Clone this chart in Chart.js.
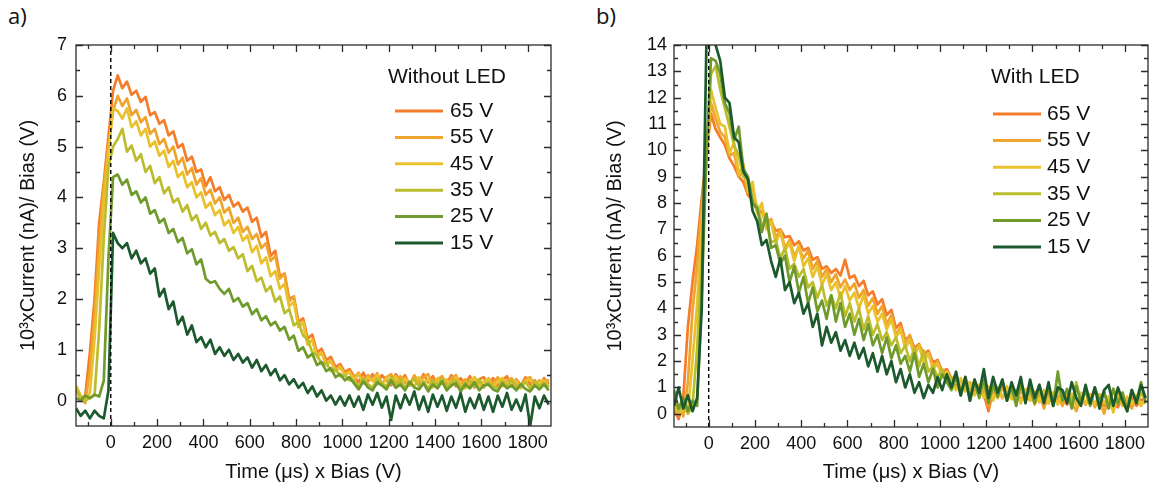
<!DOCTYPE html>
<html><head><meta charset="utf-8">
<script src="https://cdn.jsdelivr.net/npm/chart.js@4.4.1/dist/chart.umd.min.js"></script>
<style>
body{margin:0;background:#fff;width:1157px;height:494px;position:relative;overflow:hidden}
.panel{position:absolute;top:0}
.tag{position:absolute;top:0;font:22px 'Open Sans',sans-serif;color:#111}
</style></head><body>
<div class="tag" style="left:8px">a)</div>
<div class="tag" style="left:596px">b)</div>
<canvas id="c1" class="panel" style="left:0" width="580" height="494"></canvas>
<canvas id="c2" class="panel" style="left:590px" width="567" height="494"></canvas>
<script>
/* ===== DATA ===== */
const timeBias=[-150,-130,-110,-90,-70,-50,-30,-10,10,30,
  50,70,90,110,130,150,170,190,210,230,
  250,270,290,310,330,350,370,390,410,430,
  450,470,490,510,530,550,570,590,610,630,
  650,670,690,710,730,750,770,790,810,830,
  850,870,890,910,930,950,970,990,1010,1030,
  1050,1070,1090,1110,1130,1150,1170,1190,1210,1230,
  1250,1270,1290,1310,1330,1350,1370,1390,1410,1430,
  1450,1470,1490,1510,1530,1550,1570,1590,1610,1630,
  1650,1670,1690,1710,1730,1750,1770,1790,1810,1830,
  1850,1870,1890];

const biasLabels=['65 V','55 V','45 V','35 V','25 V','15 V'];
const biasColors=['#F47C2A','#EFA42E','#E9C12C','#BCBD2E','#6F9A2C','#1C5A2E'];
const xTicks=[0,200,400,600,800,1000,1200,1400,1600,1800];
const yTicksA=[0,1,2,3,4,5,6,7];
const yTicksB=[0,1,2,3,4,5,6,7,8,9,10,11,12,13,14];

// a) without LED
const noLed65=[0.25,0.0,0.1,0.95,2.0,3.5,4.3,5.2,6.1,6.4,
  6.15,6.28,6.02,6.1,5.88,5.98,5.62,5.68,5.45,5.52,
  5.22,5.3,4.98,5.05,4.72,4.8,4.5,4.55,4.22,4.4,
  4.12,4.2,3.95,4.05,3.82,3.9,3.72,3.8,3.52,3.6,
  3.22,3.32,2.85,2.95,2.45,2.5,2.0,2.05,1.55,1.62,
  1.22,1.3,0.95,1.02,0.8,0.86,0.66,0.72,0.56,0.62,
  0.48,0.36,0.55,0.38,0.52,0.32,0.5,0.4,0.3,0.52,
  0.38,0.5,0.3,0.46,0.34,0.52,0.36,0.48,0.3,0.45,
  0.34,0.5,0.28,0.44,0.32,0.48,0.26,0.42,0.46,0.3,
  0.44,0.28,0.4,0.48,0.28,0.42,0.3,0.46,0.32,0.4,
  0.28,0.44,0.32];
const noLed55=[0.2,0.05,-0.05,0.6,1.7,3.1,4.2,5.0,5.7,6.0,
  5.8,5.95,5.62,5.72,5.48,5.58,5.25,5.35,5.05,5.15,
  4.88,5.0,4.65,4.78,4.45,4.58,4.25,4.38,4.05,4.15,
  3.88,4.0,3.7,3.8,3.5,3.6,3.32,3.42,3.18,3.28,
  3.0,3.1,2.75,2.85,2.4,2.5,1.95,2.05,1.45,1.55,
  1.12,1.2,0.88,0.95,0.72,0.8,0.6,0.68,0.52,0.58,
  0.45,0.55,0.36,0.5,0.4,0.54,0.32,0.46,0.52,0.34,
  0.48,0.36,0.3,0.5,0.36,0.46,0.52,0.28,0.42,0.48,
  0.3,0.44,0.5,0.3,0.42,0.28,0.46,0.34,0.26,0.44,
  0.34,0.46,0.28,0.4,0.44,0.3,0.26,0.42,0.46,0.28,
  0.4,0.3,0.42];
const noLed45=[0.3,0.1,0.0,0.15,1.2,2.6,3.9,4.9,5.75,5.7,
  5.55,5.75,5.38,5.5,5.22,5.35,5.0,5.1,4.82,4.92,
  4.6,4.72,4.4,4.5,4.2,4.3,4.0,4.1,3.8,3.9,
  3.65,3.75,3.45,3.55,3.3,3.42,3.15,3.25,2.92,3.05,
  2.7,2.82,2.45,2.55,2.2,2.3,1.85,1.95,1.45,1.55,
  1.1,1.2,0.86,0.94,0.7,0.78,0.58,0.66,0.5,0.56,
  0.4,0.52,0.34,0.46,0.38,0.5,0.3,0.44,0.36,0.48,
  0.3,0.44,0.36,0.28,0.46,0.34,0.42,0.26,0.44,0.33,
  0.42,0.28,0.46,0.32,0.24,0.4,0.44,0.28,0.38,0.42,
  0.26,0.38,0.44,0.28,0.36,0.4,0.24,0.38,0.42,0.28,
  0.36,0.4,0.28];
const noLed35=[0.25,0.05,0.0,0.05,0.1,1.4,3.2,4.6,5.0,5.15,
  5.35,4.9,5.02,4.72,4.85,4.5,4.62,4.28,4.4,4.08,
  4.2,3.9,3.98,3.72,3.85,3.55,3.65,3.38,3.5,3.25,
  3.32,3.1,3.18,2.95,3.02,2.8,2.88,2.55,2.65,2.35,
  2.42,2.15,2.25,1.95,2.05,1.72,1.8,1.48,1.55,1.28,
  1.2,0.95,0.9,0.72,0.75,0.58,0.62,0.48,0.5,0.4,
  0.4,0.28,0.44,0.32,0.26,0.42,0.34,0.28,0.46,0.3,
  0.4,0.26,0.36,0.42,0.28,0.38,0.24,0.4,0.3,0.44,
  0.26,0.36,0.4,0.24,0.34,0.38,0.28,0.42,0.26,0.36,
  0.28,0.24,0.38,0.3,0.4,0.26,0.32,0.36,0.24,0.38,
  0.28,0.36,0.26];
const noLed25=[0.05,0.0,0.1,0.05,0.12,0.08,0.4,2.8,4.4,4.45,
  4.25,4.35,4.05,4.12,3.9,4.0,3.68,3.75,3.5,3.58,
  3.3,3.38,3.12,3.2,2.9,2.98,2.68,2.78,2.4,2.32,
  2.35,2.2,2.1,2.2,1.95,2.02,1.85,1.92,1.7,1.8,
  1.58,1.66,1.48,1.55,1.38,1.45,1.2,1.28,0.98,1.05,
  0.85,0.92,0.7,0.76,0.58,0.64,0.46,0.52,0.4,0.46,
  0.34,0.22,0.38,0.26,0.2,0.36,0.3,0.22,0.4,0.25,
  0.32,0.2,0.37,0.26,0.22,0.34,0.18,0.32,0.24,0.38,
  0.2,0.3,0.34,0.18,0.32,0.24,0.36,0.2,0.3,0.32,
  0.22,0.18,0.34,0.24,0.3,0.2,0.32,0.23,0.18,0.3,
  0.22,0.32,0.2];
const noLed15=[-0.15,-0.3,-0.2,-0.35,-0.2,-0.3,-0.35,0.2,3.3,3.1,
  3.0,3.1,2.8,2.95,2.7,2.8,2.5,2.6,2.05,2.2,
  1.8,1.95,1.5,1.65,1.3,1.48,1.15,1.25,1.05,1.2,
  0.92,1.05,0.88,1.0,0.8,0.92,0.75,0.85,0.65,0.8,
  0.58,0.7,0.5,0.62,0.4,0.5,0.32,0.42,0.25,0.35,
  0.15,0.28,0.08,0.2,0.0,0.1,-0.08,0.08,-0.1,0.1,
  -0.12,0.08,-0.18,0.12,-0.08,0.15,-0.14,0.08,-0.38,0.1,
  -0.15,0.12,-0.08,0.18,-0.18,0.08,-0.22,0.12,-0.12,0.1,
  -0.2,0.08,-0.14,0.15,-0.22,0.05,-0.15,0.12,-0.18,0.08,
  -0.22,0.1,-0.12,0.15,-0.18,0.02,-0.2,0.12,-0.5,0.08,
  -0.15,0.1,-0.08];

// b) with LED
const withLed65=[0.2,-0.2,0.6,3.3,5.0,6.4,8.2,9.8,11.4,10.8,
  10.5,10.2,9.7,9.4,9.0,8.8,8.3,8.1,7.7,7.65,
  7.4,7.3,6.95,7.0,6.7,6.75,6.4,6.55,6.2,6.3,
  5.85,5.95,5.5,5.6,5.35,5.5,5.25,5.85,5.15,5.25,
  4.85,5.05,4.5,4.65,4.15,4.35,3.75,3.95,3.25,3.45,
  2.8,2.95,2.5,2.65,2.25,2.4,1.95,2.05,1.6,1.7,
  1.35,1.0,1.3,0.9,1.2,0.8,1.1,0.75,0.1,0.9,
  1.0,0.6,0.95,0.6,0.9,0.5,0.85,0.5,0.8,0.45,
  0.75,0.4,0.8,0.45,0.7,0.35,0.75,0.4,0.65,0.35,
  0.7,0.35,0.65,0.3,0.6,0.45,0.25,0.65,0.35,0.6,
  0.3,0.55,0.4];
const withLed55=[0.1,0.25,-0.1,1.2,3.9,5.6,7.8,9.7,11.8,11.2,
  10.7,10.5,9.8,9.9,9.0,9.2,8.4,8.6,7.7,7.7,
  7.1,7.4,6.7,7.0,6.3,6.6,6.0,6.3,5.9,6.2,
  5.5,5.8,5.2,5.5,5.0,5.3,4.8,5.1,4.7,4.95,
  4.4,4.7,4.1,4.4,3.8,4.1,3.4,3.75,3.0,3.3,
  2.7,3.0,2.35,2.6,2.05,2.3,1.75,2.0,1.45,1.6,
  1.2,1.5,0.9,1.3,0.8,1.2,0.65,1.1,0.3,0.95,
  0.6,1.05,0.5,0.9,0.4,0.95,0.45,0.85,0.35,0.8,
  0.2,0.75,0.45,0.7,0.3,0.75,0.4,0.1,0.65,0.35,
  0.75,0.25,0.6,0.0,0.65,0.35,0.7,0.3,0.6,0.2,
  0.65,0.35,0.55];
const withLed45=[0.3,0.0,0.2,0.1,2.0,4.2,7.0,9.5,12.3,11.6,
  11.0,10.9,9.9,10.3,9.1,9.5,8.4,8.8,7.6,8.0,
  7.0,7.3,6.5,6.9,6.2,6.5,5.8,6.4,5.6,5.9,
  5.2,5.6,4.9,5.3,4.7,5.0,4.4,4.85,4.3,4.6,
  4.0,4.5,3.8,4.1,3.5,3.8,3.2,3.6,2.9,3.2,
  2.5,2.8,2.2,2.6,1.95,2.3,1.7,1.9,1.4,1.6,
  1.3,0.9,1.35,0.85,1.2,0.7,1.1,0.6,1.05,0.5,
  1.0,0.6,1.05,0.55,0.9,0.4,0.95,0.5,0.85,0.45,
  0.9,0.4,0.8,0.35,0.85,0.45,0.75,0.3,0.8,0.4,
  0.7,0.35,0.75,0.4,0.65,0.05,0.75,0.35,0.65,0.4,
  0.7,0.3,0.6];
const withLed35=[0.5,0.1,0.4,0.0,0.3,2.5,6.0,9.8,12.9,13.2,
  12.3,11.6,10.9,10.2,9.8,9.0,8.9,8.1,7.9,7.2,
  7.3,6.5,6.6,5.9,6.3,5.5,5.7,5.2,5.5,4.8,
  5.0,4.4,4.9,4.1,4.5,4.0,4.6,3.7,4.2,3.5,
  4.0,3.2,3.7,3.0,3.4,2.8,3.1,2.6,2.9,2.3,
  2.6,2.0,2.5,1.8,2.4,1.6,1.8,1.4,1.7,1.3,
  1.3,1.5,0.9,1.4,0.8,1.3,0.7,1.2,0.6,1.1,
  0.7,1.25,0.6,1.05,0.5,1.2,0.55,1.0,0.4,1.05,
  0.5,0.95,0.35,1.0,0.5,0.9,0.4,1.2,0.45,0.85,
  0.35,0.95,0.5,0.8,0.3,0.95,0.45,0.8,0.25,0.9,
  0.4,0.8,0.45];
const withLed25=[0.9,0.2,0.6,0.1,0.5,0.3,4.5,9.8,13.5,13.4,
  12.9,11.8,11.4,10.4,10.9,9.3,9.0,8.0,7.8,6.9,
  7.6,6.3,6.4,5.7,6.0,5.0,5.6,4.6,5.2,4.2,
  4.8,3.9,4.3,3.6,4.5,3.5,4.2,3.3,3.8,3.0,
  3.6,2.8,3.4,2.6,3.0,2.3,2.9,2.1,2.6,1.9,
  2.2,1.6,2.3,1.4,1.9,1.2,1.7,1.0,1.5,1.2,
  0.9,1.4,0.7,1.3,0.5,1.2,0.6,1.35,0.4,1.1,
  0.65,1.3,0.5,1.05,0.3,1.2,0.6,1.0,0.4,1.1,
  0.45,1.0,0.3,1.6,0.5,0.95,0.2,1.05,0.45,0.9,
  0.3,1.0,0.5,0.85,0.2,0.95,0.4,0.8,0.1,0.9,
  0.5,1.2,0.4];
const withLed15=[0.3,1.0,0.2,0.7,0.1,0.6,4.0,14.0,15.0,14.0,
  13.4,12.0,11.8,10.5,10.3,9.2,8.9,7.7,7.3,6.4,
  6.6,5.8,5.2,5.9,4.7,5.0,4.2,4.6,3.8,4.2,
  3.3,3.8,2.6,3.3,2.7,3.1,2.4,2.8,2.2,2.7,
  2.1,2.5,1.8,2.3,1.6,2.2,1.5,2.0,1.2,1.7,
  1.0,1.5,0.8,1.2,0.6,1.1,0.8,1.4,0.9,1.5,
  1.0,1.6,0.7,1.4,0.5,1.3,0.8,1.7,0.6,1.4,
  0.8,1.3,0.5,1.2,0.7,1.4,0.4,1.3,0.6,1.1,
  0.4,1.2,0.3,1.0,0.9,0.4,1.2,0.6,0.3,1.1,
  0.4,1.0,0.2,0.9,1.1,0.3,1.0,0.5,0.1,0.9,
  0.4,1.1,0.6];

/* ===== CHART HELPERS ===== */
const FONT='"Liberation Sans", Arial, sans-serif';
const INK='#111';

// box frame + inward ticks on all four sides
const frameTicks={id:'frameTicks',afterDatasetsDraw(chart){
  const {ctx,chartArea:a}=chart;
  ctx.save();ctx.strokeStyle='#2b2b2b';ctx.lineWidth=1.3;
  ctx.strokeRect(a.left,a.top,a.right-a.left,a.bottom-a.top);
  const mark=(s,v,len)=>{
    const p=Math.round(s.getPixelForValue(v))+0.5;ctx.beginPath();
    if(s.isHorizontal()){ctx.moveTo(p,a.bottom);ctx.lineTo(p,a.bottom-len);ctx.moveTo(p,a.top);ctx.lineTo(p,a.top+len);}
    else{ctx.moveTo(a.left,p);ctx.lineTo(a.left+len,p);ctx.moveTo(a.right,p);ctx.lineTo(a.right-len,p);}
    ctx.stroke();
  };
  [chart.scales.x,chart.scales.y].forEach(s=>{
    const vals=s.ticks.map(t=>t.value);
    const half=(vals[1]-vals[0])/2;
    vals.forEach(v=>mark(s,v,7));
    for(let m=vals[0]+half;m<s.max;m+=2*half)mark(s,m,4);
    for(let m=vals[0]-half;m>s.min;m-=2*half)mark(s,m,4);
  });
  ctx.restore();
}};

// legend block drawn inside the plot
const seriesLegend={id:'seriesLegend',afterDraw(chart,args,o){
  const ctx=chart.ctx;
  ctx.save();ctx.font='21px '+FONT;ctx.fillStyle=INK;ctx.textBaseline='middle';
  ctx.fillText(o.title,o.titleX,o.titleY);
  chart.data.datasets.filter(d=>d.label).forEach((d,i)=>{
    const yy=o.rowY+i*o.rowGap;
    ctx.strokeStyle=d.borderColor;ctx.lineWidth=3;
    ctx.beginPath();ctx.moveTo(o.lineX1,yy);ctx.lineTo(o.lineX2,yy);ctx.stroke();
    ctx.fillText(d.label,o.textX,yy);
  });
  ctx.restore();
}};

function makeChart(id,series,cfg){
  const datasets=series.map((ys,i)=>({
    label:biasLabels[i],
    data:ys.map((y,k)=>({x:timeBias[k],y})),
    borderColor:biasColors[i],borderWidth:2.7,pointRadius:0,tension:0,
    borderJoinStyle:'round',order:series.length-i
  }));
  // dashed marker at t = 0
  datasets.push({data:[{x:0,y:cfg.yMin},{x:0,y:cfg.yMax}],borderColor:'#000',borderWidth:1.4,
    borderDash:[4,3],pointRadius:0,order:0});
  return new Chart(document.getElementById(id),{
    type:'line',
    data:{datasets},
    plugins:[frameTicks,seriesLegend],
    options:{
      responsive:false,animation:false,events:[],
      layout:{padding:{top:45,right:cfg.padRight,left:0,bottom:0}},
      plugins:{legend:{display:false},tooltip:{enabled:false},seriesLegend:cfg.legend},
      scales:{
        x:{type:'linear',min:-150,max:1900,
          afterBuildTicks:s=>{s.ticks=xTicks.map(v=>({value:v}));},
          afterFit:s=>{s.height=cfg.xH;},
          ticks:{font:{size:18,family:FONT},color:INK,padding:6,maxRotation:0,autoSkip:false,callback:v=>String(v)},
          grid:{display:false,drawTicks:false},border:{display:false},
          title:{display:true,text:'Time (\u03bcs) x Bias (V)',font:{size:20,family:FONT},color:INK,padding:{top:0,bottom:10}}
        },
        y:{type:'linear',min:cfg.yMin,max:cfg.yMax,
          afterBuildTicks:s=>{s.ticks=cfg.yTicks.map(v=>({value:v}));},
          afterFit:s=>{s.width=cfg.yW;},
          ticks:{font:{size:18,family:FONT},color:INK,padding:cfg.yPad,autoSkip:false,callback:v=>String(v)},
          grid:{display:false,drawTicks:false},border:{display:false},
          title:{display:true,text:'10\u00b3xCurrent (nA)/ Bias (V)',font:{size:20,family:FONT},color:INK,padding:{top:cfg.yTitlePad,bottom:0}}
        }
      }
    }
  });
}

makeChart('c1',[noLed65,noLed55,noLed45,noLed35,noLed25,noLed15],{
  yMin:-0.5,yMax:7,yTicks:yTicksA,yW:76,xH:68,padRight:29,yPad:9,yTitlePad:16,
  legend:{title:'Without LED',titleX:388,titleY:77,lineX1:395,lineX2:443,textX:450,rowY:111,rowGap:26.4}
});
makeChart('c2',[withLed65,withLed55,withLed45,withLed35,withLed25,withLed15],{
  yMin:-0.5,yMax:14,yTicks:yTicksB,yW:84,xH:67,padRight:9,yPad:7,yTitlePad:13,
  legend:{title:'With LED',titleX:401,titleY:77,lineX1:403,lineX2:451,textX:457,rowY:114,rowGap:26.6}
});
</script>
</body></html>
